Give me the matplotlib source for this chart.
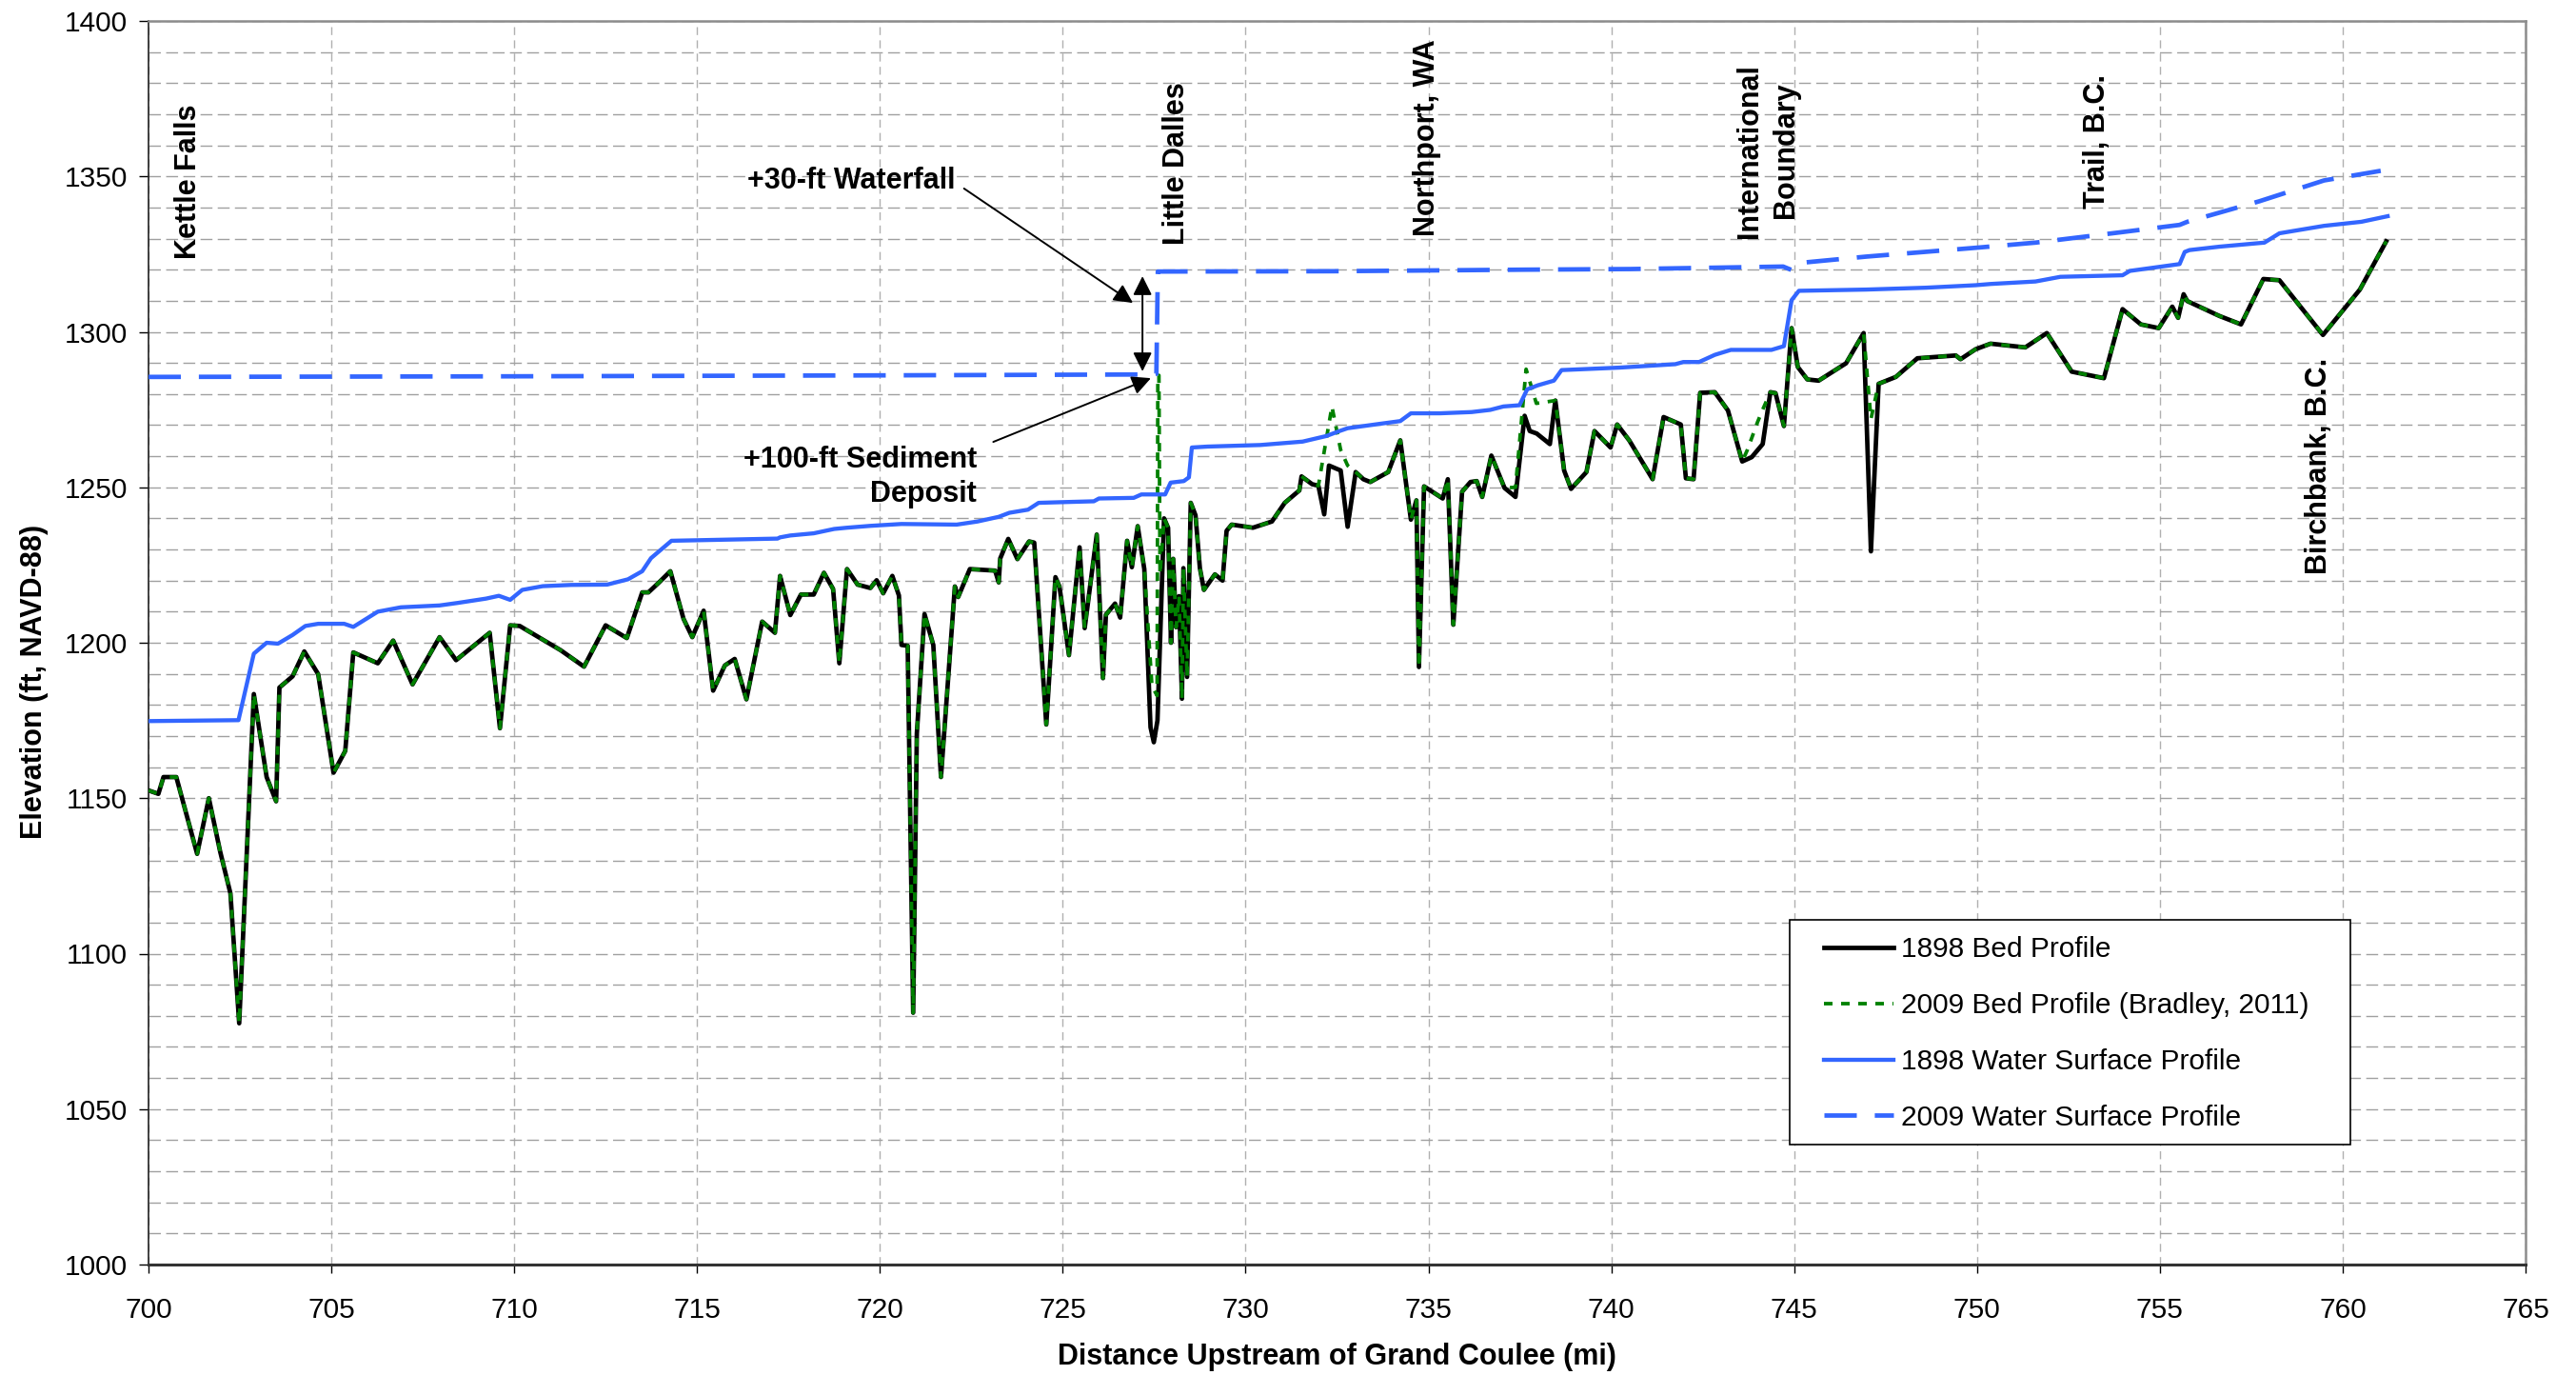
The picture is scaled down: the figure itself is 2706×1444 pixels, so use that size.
import numpy as np
import matplotlib
matplotlib.use("Agg")
import matplotlib.pyplot as plt
from matplotlib.patches import Rectangle

plt.rcParams['font.family'] = ['Liberation Sans', 'DejaVu Sans']

# ---------------- data ----------------
bed1898_x = [700.00, 700.27, 700.41, 700.76, 701.33, 701.65, 701.96, 702.24, 702.48, 702.88,
             703.23, 703.49, 703.58, 703.94, 704.26, 704.64, 705.06, 705.38, 705.60, 706.27,
             706.69, 707.22, 707.96, 708.41, 709.33, 709.61, 709.89, 710.15, 711.27, 711.91,
             712.50, 713.08, 713.50, 713.67, 713.96, 714.27, 714.63, 714.87, 715.18, 715.44,
             715.76, 716.03, 716.35, 716.78, 717.13, 717.27, 717.55, 717.84, 718.19, 718.47,
             718.72, 718.89, 719.10, 719.39, 719.74, 719.91, 720.09, 720.34, 720.52, 720.59,
             720.76, 720.91, 721.01, 721.22, 721.46, 721.67, 722.05, 722.14, 722.46, 723.15,
             723.25, 723.29, 723.51, 723.76, 724.08, 724.22, 724.55, 724.80, 724.91, 725.17,
             725.46, 725.60, 725.93, 726.10, 726.18, 726.43, 726.57, 726.76, 726.89, 727.05,
             727.23, 727.40, 727.49, 727.59, 727.77, 727.88, 727.96, 728.02, 728.10, 728.18,
             728.26, 728.30, 728.40, 728.50, 728.63, 728.75, 728.86, 729.16, 729.37, 729.48,
             729.62, 730.20, 730.72, 731.07, 731.47, 731.53, 731.82, 731.99, 732.15, 732.28,
             732.60, 732.79, 733.01, 733.22, 733.41, 733.90, 734.23, 734.52, 734.67, 734.74,
             734.88, 735.39, 735.53, 735.68, 735.92, 736.15, 736.32, 736.47, 736.72, 737.08,
             737.38, 737.63, 737.77, 737.96, 738.32, 738.47, 738.71, 738.90, 739.32, 739.54,
             739.98, 740.16, 740.49, 741.13, 741.43, 741.90, 742.04, 742.25, 742.43, 742.83,
             743.19, 743.58, 743.84, 744.14, 744.35, 744.49, 744.72, 744.93, 745.10, 745.36,
             745.67, 746.42, 746.90, 747.10, 747.31, 747.78, 748.37, 749.42, 749.55, 749.96,
             750.37, 751.32, 751.91, 752.59, 753.47, 753.98, 754.48, 754.97, 755.34, 755.50,
             755.65, 755.75, 756.63, 757.22, 757.83, 758.27, 759.46, 760.47, 761.19]
bed1898_y = [1152.5, 1151.4, 1156.8, 1156.8, 1132.1, 1150.0, 1132.8, 1119.4, 1077.6, 1183.5,
             1156.8, 1149.0, 1185.6, 1189.2, 1197.2, 1189.9, 1158.2, 1165.2, 1196.9, 1193.4,
             1200.7, 1186.6, 1201.8, 1194.4, 1203.2, 1172.5, 1205.6, 1205.4, 1197.6, 1192.3,
             1205.6, 1201.5, 1216.2, 1216.2, 1219.4, 1223.0, 1207.7, 1201.8, 1210.3, 1184.6,
             1192.7, 1194.8, 1181.8, 1206.8, 1203.2, 1221.5, 1208.9, 1215.5, 1215.5, 1222.5,
             1217.3, 1193.4, 1223.7, 1218.7, 1217.6, 1220.1, 1215.9, 1221.5, 1215.2, 1199.3,
             1199.0, 1081.0, 1170.8, 1209.2, 1199.3, 1156.8, 1218.1, 1214.7, 1223.7, 1223.2,
             1219.4, 1227.1, 1233.4, 1226.9, 1232.6, 1232.2, 1173.7, 1221.1, 1218.1, 1196.0,
             1230.7, 1204.7, 1234.8, 1188.6, 1209.0, 1212.6, 1208.1, 1232.8, 1224.3, 1237.5,
             1223.7, 1172.8, 1168.0, 1175.0, 1240.0, 1237.0, 1200.0, 1227.0, 1205.0, 1215.0,
             1182.0, 1224.0, 1189.0, 1245.0, 1241.0, 1224.0, 1217.0, 1222.0, 1220.0, 1236.0,
             1238.0, 1237.0, 1239.0, 1245.0, 1249.0, 1253.5, 1251.0, 1250.5, 1241.3, 1257.0,
             1255.4, 1237.3, 1254.9, 1252.6, 1251.7, 1254.9, 1265.1, 1239.6, 1245.8, 1192.2,
             1250.3, 1246.4, 1252.6, 1205.8, 1248.6, 1251.7, 1252.0, 1246.9, 1260.2, 1249.8,
             1246.9, 1273.0, 1268.1, 1267.3, 1263.9, 1277.9, 1255.4, 1249.5, 1254.9, 1268.1,
             1262.8, 1270.2, 1265.1, 1252.6, 1272.6, 1270.2, 1252.9, 1252.6, 1280.4, 1280.6,
             1274.7, 1258.3, 1259.7, 1263.9, 1280.6, 1280.3, 1269.7, 1301.2, 1288.7, 1284.7,
             1284.3, 1289.9, 1299.6, 1229.4, 1283.3, 1285.5, 1291.5, 1292.4, 1291.2, 1294.4,
             1296.2, 1295.0, 1299.6, 1287.2, 1285.1, 1307.3, 1302.4, 1301.2, 1308.1, 1304.5,
             1312.1, 1309.9, 1305.1, 1302.4, 1317.0, 1316.6, 1299.0, 1313.6, 1329.1]

# 2009 bed profile: identical to the 1898 survey except in these reaches
# (reach start, reach end, 2009 points inside the reach)
bed2009_reaches = [
    (727.30, 727.70, [(727.44, 1186.0), (727.58, 1183.0), (727.60, 1286.0),
                      (727.63, 1286.0), (727.66, 1222.0)]),
    (732.00, 732.90, [(732.36, 1276.0), (732.60, 1262.0), (732.79, 1257.0)]),
    (737.30, 738.40, [(737.38, 1250.0), (737.67, 1288.0), (737.95, 1277.0)]),
    (743.60, 744.20, [(743.72, 1262.0), (744.00, 1271.0), (744.14, 1275.0)]),
    (747.00, 747.20, [(747.10, 1272.0)]),
]

ws1898_x = [700.00, 702.46, 702.88, 703.23, 703.54, 703.94, 704.29, 704.64, 705.35, 705.60,
            706.27, 706.90, 707.96, 708.45, 709.23, 709.58, 709.89, 710.22, 710.78, 711.56,
            712.54, 713.11, 713.50, 713.74, 714.30, 717.20, 717.27, 717.55, 718.19, 718.75,
            719.10, 719.74, 720.59, 722.10, 722.67, 723.25, 723.54, 724.05, 724.34, 724.91,
            725.85, 725.99, 726.94, 727.15, 727.80, 727.95, 728.31, 728.45, 728.53, 728.96,
            730.40, 731.56, 732.21, 732.57, 732.79, 733.66, 734.23, 734.52, 735.32, 736.18,
            736.69, 737.05, 737.49, 737.70, 737.99, 738.43, 738.64, 740.23, 741.75, 741.97,
            742.40, 742.83, 743.27, 744.38, 744.72, 744.93, 745.13, 746.97, 748.60, 749.96,
            750.37, 751.60, 752.28, 753.98, 754.18, 755.54, 755.68, 755.81, 756.63, 757.86,
            758.27, 759.49, 760.51, 761.23]
ws1898_y = [1174.8, 1175.1, 1196.5, 1200.0, 1199.7, 1202.5, 1205.4, 1206.1, 1206.1, 1205.1,
            1210.0, 1211.4, 1212.0, 1212.8, 1214.2, 1215.1, 1213.8, 1217.0, 1218.2, 1218.6,
            1218.7, 1220.4, 1223.0, 1227.2, 1232.8, 1233.5, 1233.9, 1234.5, 1235.2, 1236.6,
            1237.0, 1237.6, 1238.2, 1238.0, 1239.0, 1240.5, 1241.8, 1242.8, 1245.0, 1245.2,
            1245.5, 1246.4, 1246.6, 1247.7, 1247.7, 1251.5, 1252.0, 1253.2, 1262.8, 1263.1,
            1263.6, 1264.7, 1266.5, 1268.1, 1269.0, 1270.4, 1271.3, 1273.8, 1273.8, 1274.2,
            1274.9, 1276.0, 1276.4, 1281.5, 1282.8, 1284.3, 1287.7, 1288.5, 1289.6, 1290.3,
            1290.3, 1292.6, 1294.2, 1294.2, 1295.4, 1310.2, 1313.2, 1313.6, 1314.2, 1315.0,
            1315.4, 1316.2, 1317.7, 1318.2, 1319.6, 1321.8, 1325.7, 1326.3, 1327.4, 1328.7,
            1331.7, 1334.1, 1335.4, 1337.2]

ws2009_x = [700.00, 710.00, 720.00, 727.50, 727.56, 727.60, 732.38, 737.62, 740.52, 744.70,
            744.95, 745.27, 746.97, 750.03, 751.60, 753.91, 755.54, 755.75, 757.72, 759.49,
            761.04]
ws2009_y = [1285.5, 1285.7, 1286.0, 1286.3, 1286.5, 1319.4, 1319.5, 1320.0, 1320.2, 1321.0,
            1319.8, 1322.3, 1324.2, 1327.1, 1328.7, 1332.0, 1334.4, 1335.4, 1342.0, 1348.7,
            1351.8]

series_labels = ["1898 Bed Profile", "2009 Bed Profile (Bradley, 2011)",
                 "1898 Water Surface Profile", "2009 Water Surface Profile"]

place_names = ["Kettle Falls", "Little Dalles", "Northport, WA", "International",
               "Boundary", "Trail, B.C.", "Birchbank, B.C."]
place_pos = [(701.30, 1323.4), (728.32, 1328.0), (735.17, 1330.8), (744.00, 1330.2),
             (744.99, 1336.6), (753.49, 1339.7), (759.55, 1222.1)]

# build the 2009 bed profile
b09 = list(zip(bed1898_x, bed1898_y))
for x0, x1, pts in bed2009_reaches:
    b09 = [p for p in b09 if not (x0 <= p[0] <= x1)] + pts
b09.sort()
bed2009_x = [p[0] for p in b09]
bed2009_y = [p[1] for p in b09]

# ---------------- figure ----------------
W, H = 2706, 1444
fig = plt.figure(figsize=(W / 100, H / 100), dpi=100)
ax = fig.add_axes([156 / W, (H - 1328) / H, (2653 - 156) / W, (1328 - 22) / H])

blue = '#3366ff'
ax.plot(bed1898_x, bed1898_y, color='black', lw=3.4, zorder=3)
ax.plot(bed2009_x, bed2009_y, color='#008000', lw=2.7, zorder=4,
        linestyle=(0, (2.4, 2.4)))
ax.plot(ws1898_x, ws1898_y, color=blue, lw=3.1, zorder=5)
ax.plot(ws2009_x, ws2009_y, color=blue, lw=3.4, zorder=5, linestyle=(0, (7.2, 4.0)))

ax.set_xlim(700, 765)
ax.set_ylim(1000, 1400)
ax.set_xticks(np.arange(700, 766, 5))
ax.set_yticks(np.arange(1000, 1401, 50))
ax.set_yticks(np.arange(1000, 1401, 10), minor=True)
ax.tick_params(axis='x', which='major', length=6.5, width=1.0, pad=18, labelsize=21.5,
               direction='out', colors='black')
ax.tick_params(axis='y', which='major', length=7, width=1.0, pad=9, labelsize=21.5,
               direction='out')
ax.tick_params(axis='y', which='minor', length=0)

ax.grid(True, axis='y', which='both', color='#a0a0a0', lw=1.0, linestyle=(0, (9, 4)), zorder=0)
ax.grid(True, axis='x', which='major', color='#b0b0b0', lw=1.0, linestyle=(0, (6, 4)), zorder=0)
ax.set_axisbelow(True)

for s in ['top', 'right']:
    ax.spines[s].set_color('#8c8c8c')
    ax.spines[s].set_linewidth(1.8)
ax.spines['left'].set_color('#222222')
ax.spines['left'].set_linewidth(1.2)
ax.spines['bottom'].set_color('#333333')
ax.spines['bottom'].set_linewidth(2.2)

ax.set_xlabel("Distance Upstream of Grand Coulee (mi)", fontsize=22, fontweight='bold')
ax.xaxis.set_label_coords(0.5, -0.0625)
ax.xaxis.label.set_verticalalignment('top')
ax.set_ylabel("Elevation (ft, NAVD-88)", fontsize=22, fontweight='bold')
ax.yaxis.set_label_coords(-0.048, 0.4686)
ax.yaxis.label.set_verticalalignment('center')

# place labels
for name, (px, py) in zip(place_names, place_pos):
    ax.text(px, py, name, rotation=90, rotation_mode='anchor', ha='left', va='baseline',
            fontsize=22, fontweight='bold', zorder=6)

# annotations
ax.text(716.37, 1346.0, "+30-ft Waterfall", ha='left', va='baseline', fontsize=22,
        fontweight='bold', zorder=6)
ax.text(722.65, 1256.3, "+100-ft Sediment", ha='right', va='baseline', fontsize=22,
        fontweight='bold', zorder=6)
ax.text(722.65, 1245.3, "Deposit", ha='right', va='baseline', fontsize=22,
        fontweight='bold', zorder=6)
ax.annotate("", xy=(726.92, 1309.3), xytext=(722.3, 1346.1),
            arrowprops=dict(arrowstyle='-|>', color='black', lw=1.4, mutation_scale=30,
                            shrinkA=0, shrinkB=0), zorder=6)
ax.annotate("", xy=(727.41, 1285.1), xytext=(723.1, 1264.6),
            arrowprops=dict(arrowstyle='-|>', color='black', lw=1.4, mutation_scale=30,
                            shrinkA=0, shrinkB=0), zorder=6)
ax.annotate("", xy=(727.18, 1317.9), xytext=(727.18, 1287.3),
            arrowprops=dict(arrowstyle='<|-|>', color='black', lw=1.4, mutation_scale=30,
                            shrinkA=0, shrinkB=0), zorder=6)

# legend with a hand-placed frame
frame = Rectangle((0.6904, 0.0965), 0.9263 - 0.6904, 0.2772 - 0.0965, transform=ax.transAxes,
                  facecolor='white', edgecolor='black', lw=1.2, zorder=7)
ax.add_patch(frame)
leg = ax.legend(series_labels, loc='upper left', bbox_to_anchor=(0.7048, 0.2638),
                frameon=False, fontsize=21.5, borderpad=0, borderaxespad=0,
                handlelength=2.45, handletextpad=0.25, labelspacing=1.03)
leg.set_zorder(8)

fig.savefig("out.png", dpi=100)
